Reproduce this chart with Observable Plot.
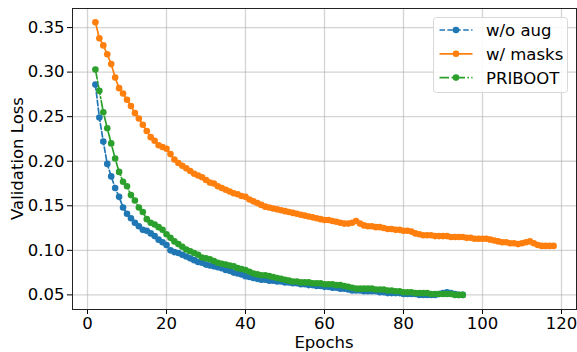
<!DOCTYPE html>
<html><head><meta charset="utf-8">
<script src="https://cdn.jsdelivr.net/npm/d3@7"></script>
<script src="https://cdn.jsdelivr.net/npm/@observablehq/plot@0.6"></script>
<style>body{margin:0;background:#fff;} svg{display:block}</style>
</head><body><div id="chart"></div>
<script>
const seriesNames = ["w/o aug", "w/ masks", "PRIBOOT"];
const seriesColors = ["#1f77b4", "#ff7f0e", "#2ca02c"];
const firstEpoch = 2;
const woAug = [
  0.286, 0.249, 0.222, 0.197, 0.183, 0.170, 0.160, 0.148, 0.141, 0.136,
  0.131, 0.127, 0.123, 0.122, 0.119, 0.116, 0.112, 0.109, 0.106, 0.100,
  0.098, 0.097, 0.095, 0.093, 0.091, 0.089, 0.087, 0.086, 0.084, 0.083,
  0.082, 0.081, 0.080, 0.078, 0.077, 0.075, 0.074, 0.073, 0.071, 0.070,
  0.069, 0.068, 0.067, 0.067, 0.066, 0.066, 0.065, 0.065, 0.064, 0.064,
  0.063, 0.063, 0.062, 0.062, 0.061, 0.061, 0.060, 0.060, 0.059, 0.059,
  0.058, 0.058, 0.057, 0.057, 0.056, 0.055, 0.055, 0.055, 0.054, 0.054,
  0.054, 0.054, 0.053, 0.053, 0.052, 0.052, 0.052, 0.052, 0.051, 0.051,
  0.051, 0.051, 0.050, 0.050, 0.050, 0.050, 0.050, 0.051, 0.052, 0.053,
  0.052, 0.051, 0.050, 0.050
];
const wMasks = [
  0.356, 0.338, 0.330, 0.320, 0.309, 0.294, 0.282, 0.276, 0.269, 0.262,
  0.254, 0.248, 0.241, 0.234, 0.227, 0.223, 0.218, 0.216, 0.214, 0.208,
  0.202, 0.198, 0.195, 0.192, 0.189, 0.186, 0.184, 0.182, 0.179, 0.176,
  0.175, 0.172, 0.170, 0.168, 0.166, 0.164, 0.163, 0.161, 0.160, 0.157,
  0.155, 0.153, 0.151, 0.149, 0.148, 0.147, 0.146, 0.145, 0.144, 0.143,
  0.142, 0.141, 0.140, 0.139, 0.138, 0.137, 0.136, 0.135, 0.134, 0.134,
  0.133, 0.132, 0.131, 0.130, 0.130, 0.131, 0.133, 0.130, 0.128, 0.127,
  0.127, 0.126, 0.126, 0.125, 0.124, 0.124, 0.123, 0.123, 0.122, 0.122,
  0.121, 0.119, 0.118, 0.117, 0.117, 0.117, 0.116, 0.116, 0.116, 0.116,
  0.115, 0.115, 0.115, 0.115, 0.114, 0.114, 0.113, 0.113, 0.113, 0.113,
  0.112, 0.111, 0.110, 0.109, 0.109, 0.108, 0.108, 0.107, 0.108, 0.109,
  0.110, 0.108, 0.106, 0.105, 0.105, 0.105, 0.105
];
const priboot = [
  0.303, 0.279, 0.255, 0.237, 0.220, 0.203, 0.188, 0.177, 0.172, 0.162,
  0.156, 0.148, 0.143, 0.135, 0.131, 0.129, 0.126, 0.123, 0.118, 0.114,
  0.110, 0.107, 0.104, 0.101, 0.099, 0.097, 0.095, 0.092, 0.091, 0.090,
  0.088, 0.086, 0.085, 0.084, 0.083, 0.082, 0.080, 0.079, 0.078, 0.076,
  0.074, 0.073, 0.072, 0.072, 0.071, 0.070, 0.069, 0.068, 0.067, 0.066,
  0.065, 0.065, 0.064, 0.064, 0.064, 0.063, 0.063, 0.063, 0.062, 0.062,
  0.062, 0.061, 0.061, 0.060, 0.059, 0.058, 0.057, 0.057, 0.057, 0.057,
  0.057, 0.056, 0.056, 0.056, 0.055, 0.055, 0.054, 0.054, 0.053, 0.053,
  0.053, 0.052, 0.052, 0.052, 0.052, 0.051, 0.051, 0.051, 0.051, 0.051,
  0.051, 0.050, 0.050, 0.050
];
const xTicks = [0, 20, 40, 60, 80, 100, 120];
const yTicks = [0.05, 0.10, 0.15, 0.20, 0.25, 0.30, 0.35];
const xLabel = "Epochs";
const yLabel = "Validation Loss";

const toRows = (vals) => vals.map((v, i) => ({epoch: firstEpoch + i, loss: v}));
const rowsA = toRows(woAug), rowsB = toRows(wMasks), rowsC = toRows(priboot);
const dashes = ["5.5,2.4", null, "9.6,2.4,1.5,2.4"];

const W = 577, H = 352;
const mL = 72, mR = 1, mT = 8, mB = 43;
const dotR = 3.3, lineW = 1.7;

const seriesMarks = (rows, k) => [
  Plot.line(rows, {x: "epoch", y: "loss", stroke: seriesColors[k], strokeWidth: lineW,
    strokeDasharray: dashes[k] || undefined}),
  Plot.dot(rows, {x: "epoch", y: "loss", fill: seriesColors[k], r: dotR, stroke: "none"})
];

const chart = Plot.plot({
  width: W, height: H,
  marginLeft: mL, marginRight: mR, marginTop: mT, marginBottom: mB,
  style: {fontFamily: "DejaVu Sans", fontSize: "16px", color: "black", background: "white"},
  x: {domain: [-3.8, 123.8]},
  y: {domain: [0.0336, 0.3714]},
  marks: [
    Plot.gridX(xTicks, {stroke: "#b0b0b0", strokeOpacity: 0.55, strokeWidth: 1.3}),
    Plot.gridY(yTicks, {stroke: "#b0b0b0", strokeOpacity: 0.55, strokeWidth: 1.3}),
    ...seriesMarks(rowsA, 0),
    ...seriesMarks(rowsB, 1),
    ...seriesMarks(rowsC, 2),
    Plot.axisX({ticks: xTicks, tickFormat: d => String(d), tickSize: 5, tickPadding: 3, label: null, fontSize: 16.5}),
    Plot.axisY({ticks: yTicks, tickFormat: d => d.toFixed(2), tickSize: 5, tickPadding: 3, label: null, fontSize: 16.5}),
    Plot.frame({stroke: "#222", strokeWidth: 1})
  ]
});
document.getElementById("chart").appendChild(chart);

const svg = d3.select(chart);
// axis titles
svg.append("text").attr("x", (mL + W - mR) / 2).attr("y", 348)
  .attr("text-anchor", "middle").attr("font-size", 16.5).attr("fill", "black").text(xLabel);
svg.append("text").attr("transform", `translate(23,${(mT + H - mB) / 2}) rotate(-90)`)
  .attr("text-anchor", "middle").attr("font-size", 16.5).attr("fill", "black").text(yLabel);

// legend
const lg = svg.append("g").attr("transform", "translate(433.5,17.5)");
lg.append("rect").attr("width", 134).attr("height", 75).attr("rx", 3)
  .attr("fill", "white").attr("fill-opacity", 0.85).attr("stroke", "#d8d8d8").attr("stroke-width", 1);
seriesNames.forEach((name, k) => {
  const cy = 12.5 + k * 23.8;
  lg.append("line").attr("x1", 6).attr("x2", 39).attr("y1", cy).attr("y2", cy)
    .attr("stroke", seriesColors[k]).attr("stroke-width", lineW)
    .attr("stroke-dasharray", dashes[k] || null);
  lg.append("circle").attr("cx", 22.5).attr("cy", cy).attr("r", dotR).attr("fill", seriesColors[k]);
  lg.append("text").attr("x", 52.5).attr("y", cy).attr("dy", "0.36em")
    .attr("text-anchor", "start")
    .attr("font-size", 16.5).attr("fill", "black").text(name);
});
</script>
</body></html>
